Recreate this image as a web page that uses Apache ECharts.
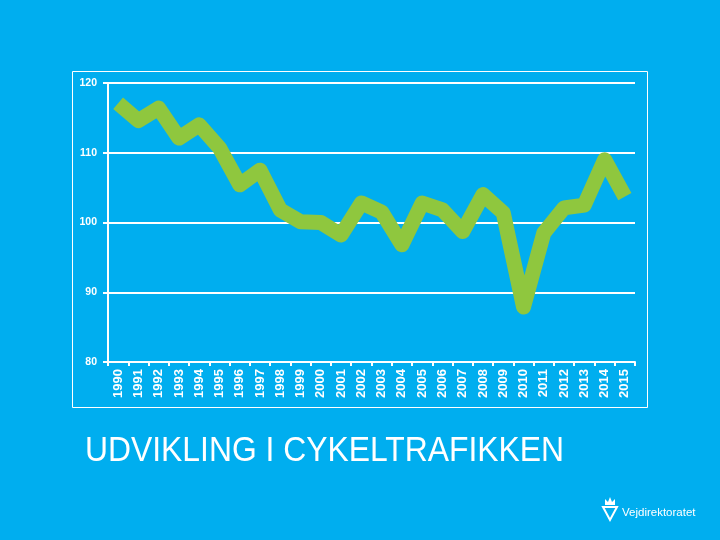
<!DOCTYPE html>
<html><head><meta charset="utf-8">
<script src="https://cdn.jsdelivr.net/npm/echarts@6/dist/echarts.min.js"></script>
<style>html,body{margin:0;padding:0;background:#00AEEF;}#c{width:720px;height:540px;}</style>
</head><body><div id="c"></div>
<script>
var years = ['1990','1991','1992','1993','1994','1995','1996','1997','1998','1999','2000','2001','2002','2003','2004','2005','2006','2007','2008','2009','2010','2011','2012','2013','2014','2015'];
var values = [117.1,114.6,116.4,112.1,114.0,110.7,105.4,107.5,101.8,100.1,100.0,98.2,102.8,101.5,96.8,102.8,101.8,98.7,104.0,101.4,87.9,98.5,102.1,102.5,109.0,103.7];
var title = 'UDVIKLING I CYKELTRAFIKKEN';
var logoText = 'Vejdirektoratet';

var chart = echarts.init(document.getElementById('c'));
chart.setOption({
  backgroundColor: '#00AEEF',
  animation: false,
  grid: {left: 108, right: 85, top: 83, bottom: 178},
  xAxis: {
    type: 'category', data: years, boundaryGap: true,
    axisLine: {lineStyle: {color: '#fff', width: 2}},
    axisTick: {show: true, length: 4, lineStyle: {color: '#fff', width: 2}},
    axisLabel: {rotate: 90, color: '#fff', fontFamily: 'Liberation Sans', fontWeight: 'bold', fontSize: 13, margin: 7}
  },
  yAxis: {
    type: 'value', min: 80, max: 120, interval: 10,
    axisLine: {show: true, lineStyle: {color: '#fff', width: 2}},
    axisTick: {show: true, length: 5, lineStyle: {color: '#fff', width: 2}},
    splitLine: {lineStyle: {color: '#fff', width: 2}},
    axisLabel: {color: '#fff', fontFamily: 'Liberation Sans', fontWeight: 'bold', fontSize: 10.5, margin: 11}
  },
  series: [{
    type: 'line', data: values, symbol: 'none',
    lineStyle: {color: '#8FC73E', width: 15, join: 'round', cap: 'butt'}
  }],
  graphic: [
    {type: 'rect', shape: {x: 72.5, y: 71.5, width: 575, height: 336}, style: {fill: 'none', stroke: '#fff', lineWidth: 1}, z: 0},
    {type: 'text', x: 85, y: 451, scaleX: 0.91, originX: 0, originY: 0, style: {text: title, fill: '#fff', font: '35px "Liberation Sans"', textVerticalAlign: 'middle'}},
    {type: 'text', x: 622, y: 513, style: {text: logoText, fill: '#fff', font: '11.5px "Liberation Sans"', textVerticalAlign: 'middle'}},
    {type: 'polygon', shape: {points: [[603,507],[617,507],[610,520]]}, style: {fill: 'none', stroke: '#fff', lineWidth: 2}},
    {type: 'polygon', shape: {points: [[605,505],[605,499],[608,502],[610,497],[612,502],[615,499],[615,505]]}, style: {fill: '#fff'}}
  ]
});
</script></body></html>
